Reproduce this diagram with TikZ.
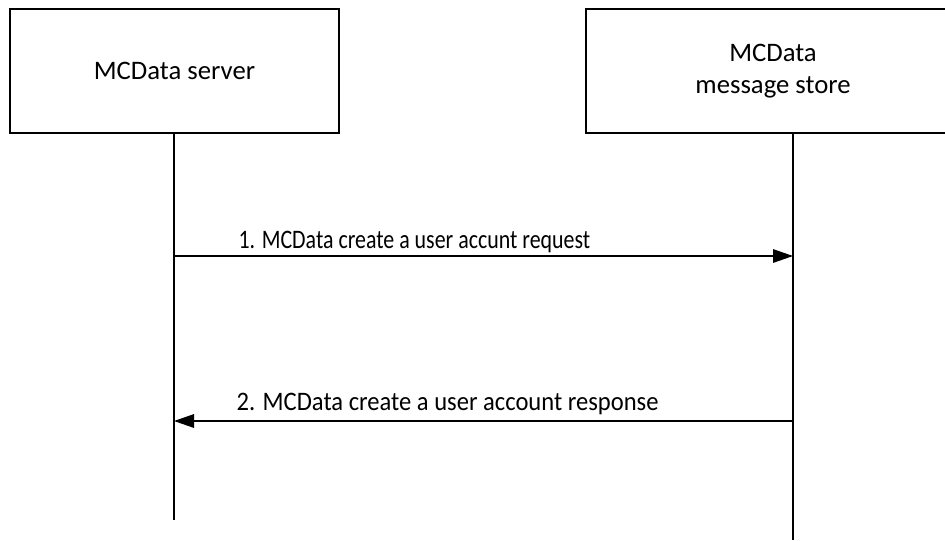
\documentclass[tikz,border=0pt]{standalone}
\usepackage{fontspec}
\setmainfont{Carlito}
\usetikzlibrary{arrows.meta,positioning,calc}

\begin{document}
\begin{tikzpicture}[
  >={Triangle[length=0.5cm,width=0.34cm]},
  line width=0.8pt,
  every node/.append style={font=\fontsize{19}{23}\selectfont},
  entity/.style={draw, align=center, minimum height=3.1cm, inner sep=0pt},
  msglabel/.style={anchor=base},
]
\useasboundingbox (0,0) rectangle (23.625,-13.5);
\def\reqy{-6.4}
\def\resy{-10.525}
% --- entities ---
\node[entity, minimum width=8.225cm] (server) at (4.3625,-1.775) {MCData server};
\node[entity, minimum width=9.35cm] (store) at (19.325,-1.775) {MCData\\message store};
% --- lifelines ---
\coordinate (serverEnd) at (4.35,-13.0);
\coordinate (storeEnd) at (19.825,-13.5);
\draw (server.south -| serverEnd) -- (serverEnd);
\draw (store.south -| storeEnd) -- (storeEnd);
% --- messages ---
\coordinate (reqFrom) at (4.35,\reqy);
\coordinate (reqTo) at (19.825,\reqy);
\draw[->] (reqFrom) -- (reqTo);
\node[msglabel] (reqLabel) at (10.36,\reqy+0.18)
  {\scalebox{0.82}[1]{1. MCData create a user accunt request}};
\coordinate (resFrom) at (19.825,\resy);
\coordinate (resTo) at (4.35,\resy);
\draw[->] (resFrom) -- (resTo);
\node[msglabel] (resLabel) at (11.19,\resy+0.27)
  {\scalebox{0.92}[1]{2. MCData create a user account response}};
\end{tikzpicture}
\end{document}
